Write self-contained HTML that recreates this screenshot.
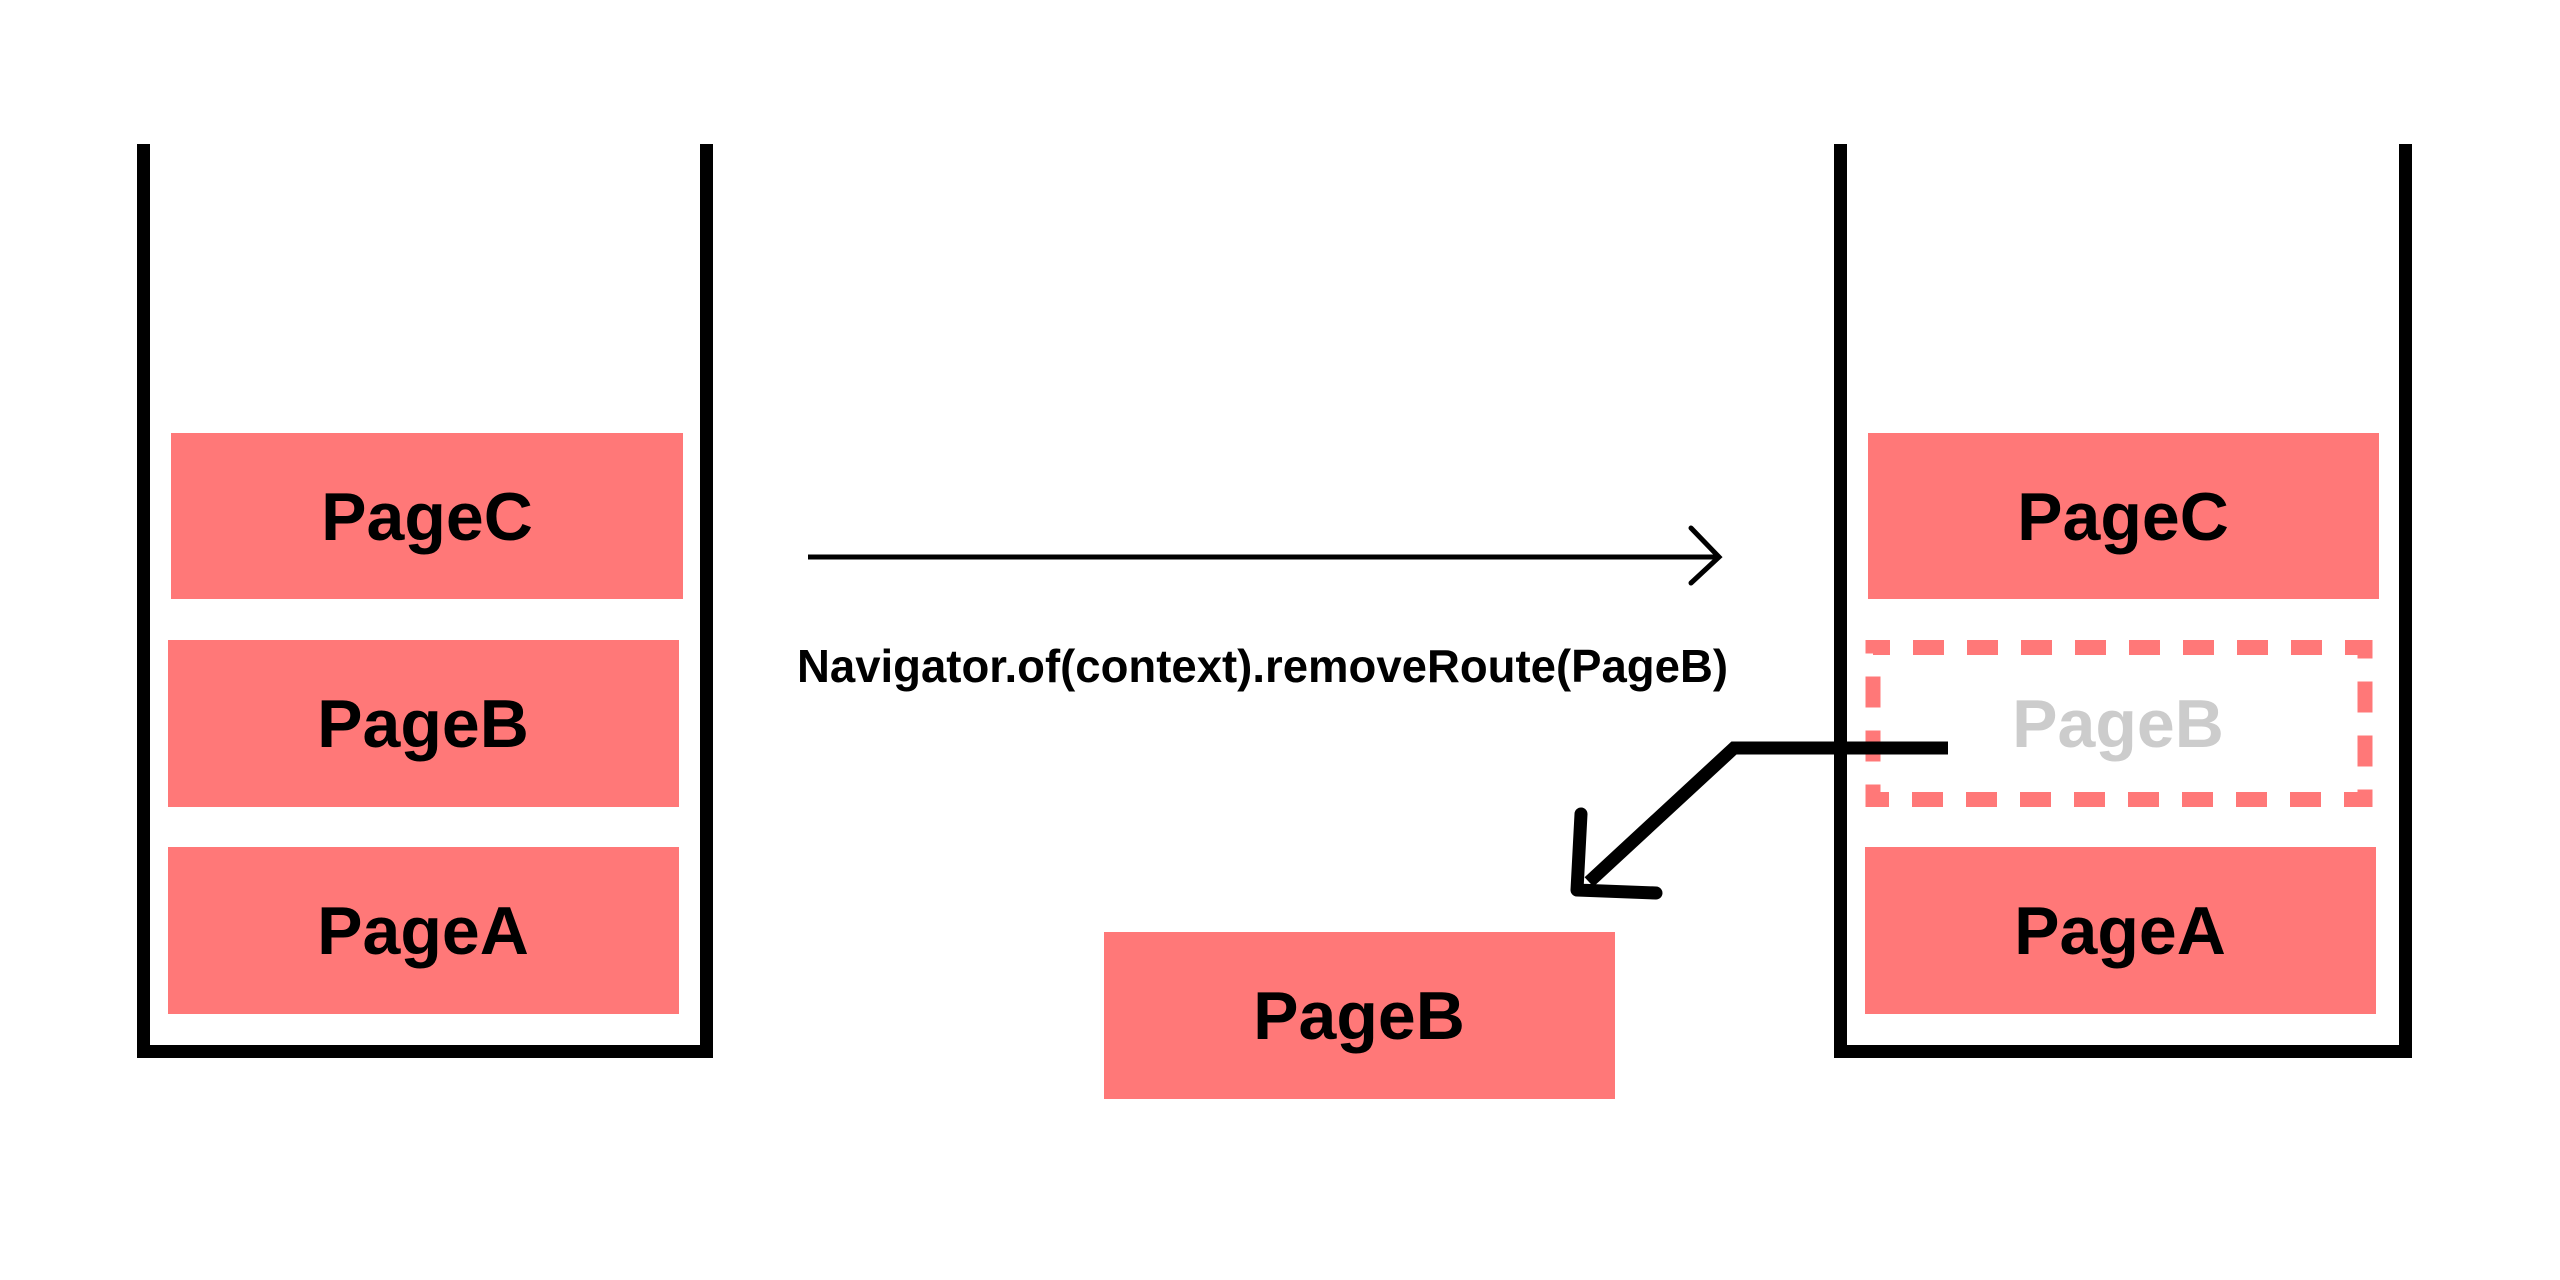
<!DOCTYPE html>
<html><head><style>html,body{margin:0;padding:0;background:#fff;}svg{display:block}</style></head>
<body>
<svg width="2560" height="1280" viewBox="0 0 2560 1280" xmlns="http://www.w3.org/2000/svg" font-family="Liberation Sans, sans-serif" font-weight="bold">
<rect width="2560" height="1280" fill="#fff"/>
<!-- left container -->
<path d="M143.5 144 V1051.5 H706.5 V144" fill="none" stroke="#000" stroke-width="13"/>
<rect x="171" y="433" width="512" height="166" fill="#FF7878"/>
<rect x="168" y="640" width="511" height="167" fill="#FF7878"/>
<rect x="168" y="847" width="511" height="167" fill="#FF7878"/>
<g font-size="68" text-anchor="middle" fill="#000">
<text x="427" y="540">PageC</text>
<text x="423" y="747">PageB</text>
<text x="423" y="954">PageA</text>
</g>
<!-- middle arrow -->
<line x1="808" y1="557" x2="1718" y2="557" stroke="#000" stroke-width="5"/>
<polyline points="1691,528 1719,557 1691,583" fill="none" stroke="#000" stroke-width="5" stroke-linecap="round"/>
<text x="797" y="682" font-size="46" textLength="931" lengthAdjust="spacingAndGlyphs" fill="#000">Navigator.of(context).removeRoute(PageB)</text>
<!-- right container -->
<path d="M1840.5 144 V1051.5 H2405.5 V144" fill="none" stroke="#000" stroke-width="13"/>
<rect x="1868" y="433" width="511" height="166" fill="#FF7878"/>
<rect x="1873" y="647.5" width="492" height="152" fill="none" stroke="#FF7878" stroke-width="15" stroke-dasharray="31 23" stroke-dashoffset="14"/>
<rect x="1865" y="847" width="511" height="167" fill="#FF7878"/>
<rect x="1104" y="932" width="511" height="167" fill="#FF7878"/>
<g font-size="68" text-anchor="middle">
<text x="2123" y="540" fill="#000">PageC</text>
<text x="2118" y="747" fill="#CCCCCC">PageB</text>
<text x="2120" y="954" fill="#000">PageA</text>
<text x="1359" y="1039" fill="#000">PageB</text>
</g>
<!-- bent arrow -->
<polyline points="1948,748 1734,748 1589,882" fill="none" stroke="#000" stroke-width="13"/>
<polyline points="1581,814 1577,890 1656,893" fill="none" stroke="#000" stroke-width="13" stroke-linecap="round" stroke-linejoin="round"/>
</svg>
</body></html>
